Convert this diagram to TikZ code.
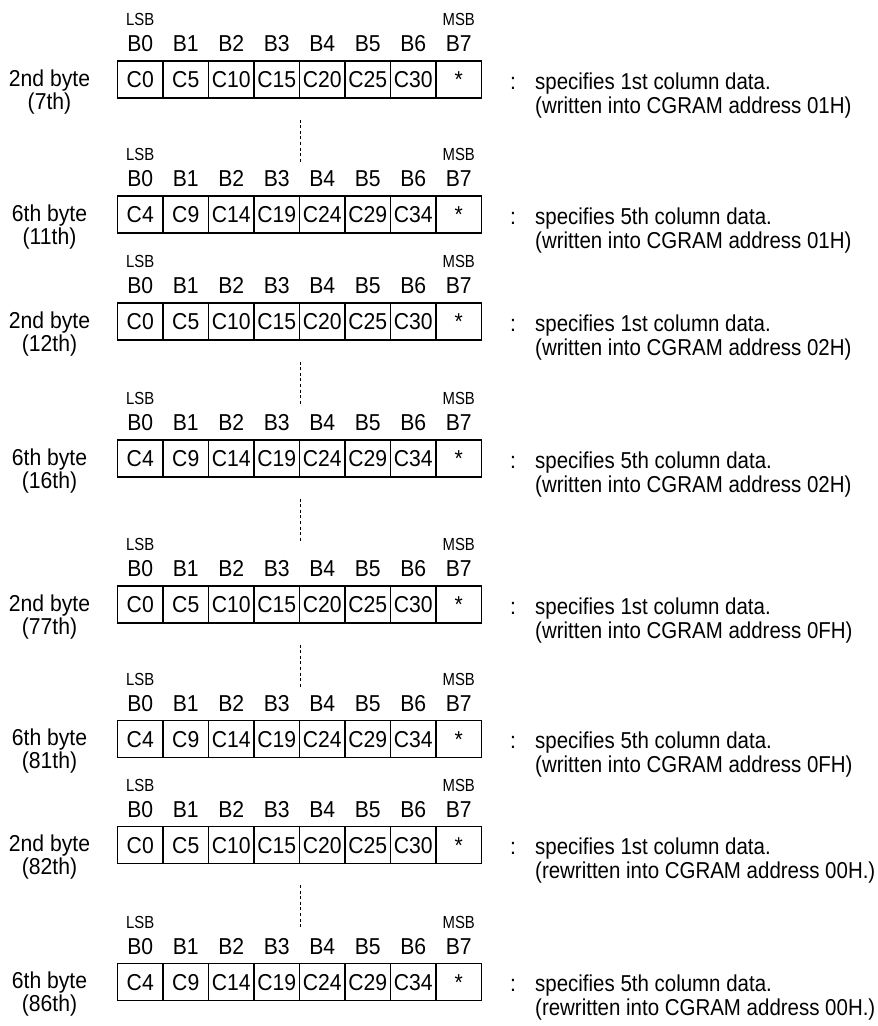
\documentclass[tikz,border=0pt]{standalone}
\usepackage{fontspec}
\setmainfont{Liberation Sans}[FakeStretch=0.92]
\newfontfamily\narrowfont{Liberation Sans}[FakeStretch=0.85]
\newfontfamily\notefont{Liberation Sans}[FakeStretch=0.89]
\begin{document}
\begin{tikzpicture}[x=1pt,y=-1pt,
  cell/.style={draw,line width=1.1pt,minimum width=45.5pt,minimum height=37pt,inner sep=0pt,
    text height=16.4pt,text depth=0pt,font=\fontsize{23}{24}\selectfont},
  txt/.style={inner sep=0pt,anchor=base,font=\fontsize{23}{24}\selectfont},
  note/.style={inner sep=0pt,anchor=base west,font=\notefont\fontsize{23}{24}\selectfont},
  small/.style={inner sep=0pt,anchor=base,font=\narrowfont\fontsize{17.5}{20}\selectfont},
  dots/.style={line width=1.1pt,dash pattern=on 3pt off 2.6pt}]
\useasboundingbox (0,0) rectangle (878,1026);
\foreach \r/\cy/\off/\byte/\ord/\col/\pre/\addr in {
  1/79.5/0/2nd/7th/1st/written/01H,
  2/214.5/4/6th/11th/5th/written/01H,
  3/321.5/0/2nd/12th/1st/written/02H,
  4/458.5/4/6th/16th/5th/written/02H,
  5/604.5/0/2nd/77th/1st/written/0FH,
  6/739/4/6th/81th/5th/written/0FH,
  7/845/0/2nd/82th/1st/rewritten/00H.,
  8/982/4/6th/86th/5th/rewritten/00H.}{
  \foreach \i in {0,...,6}{
    \pgfmathtruncatemacro\v{5*\i+\off}
    \node[cell] (c\r-\i) at (140.25+45.5*\i,\cy) {C\v};
    \node[txt] (b\r-\i) at (140.25+45.5*\i,\cy-27.7) {B\i};
  }
  \node[cell] (c\r-7) at (458.75,\cy) {*};
  \node[txt] (b\r-7) at (458.75,\cy-27.7) {B7};
  \node[small] (lsb\r) at (140.25,\cy-53.6) {LSB};
  \node[small] (msb\r) at (458.75,\cy-53.6) {MSB};
  \node[txt] (n\r) at (49.5,\cy+6.7) {\byte\ byte};
  \node[txt] (o\r) at (49.5,\cy+29.5) {(\ord)};
  \node[txt] (k\r) at (513,\cy+9.7) {:};
  \node[note] (s\r) at (535,\cy+9.7) {specifies \col\ column data.};
  \node[note] (w\r) at (535,\cy+33.7) {(\pre\ into CGRAM address \addr)};
}
\foreach \r in {1,3,4,5,7}{
  \path (c\r-3.south east) ++(0,21) coordinate (da\r) ++(0,44) coordinate (db\r);
  \draw[dots] (da\r) -- (db\r);
}
\end{tikzpicture}
\end{document}
